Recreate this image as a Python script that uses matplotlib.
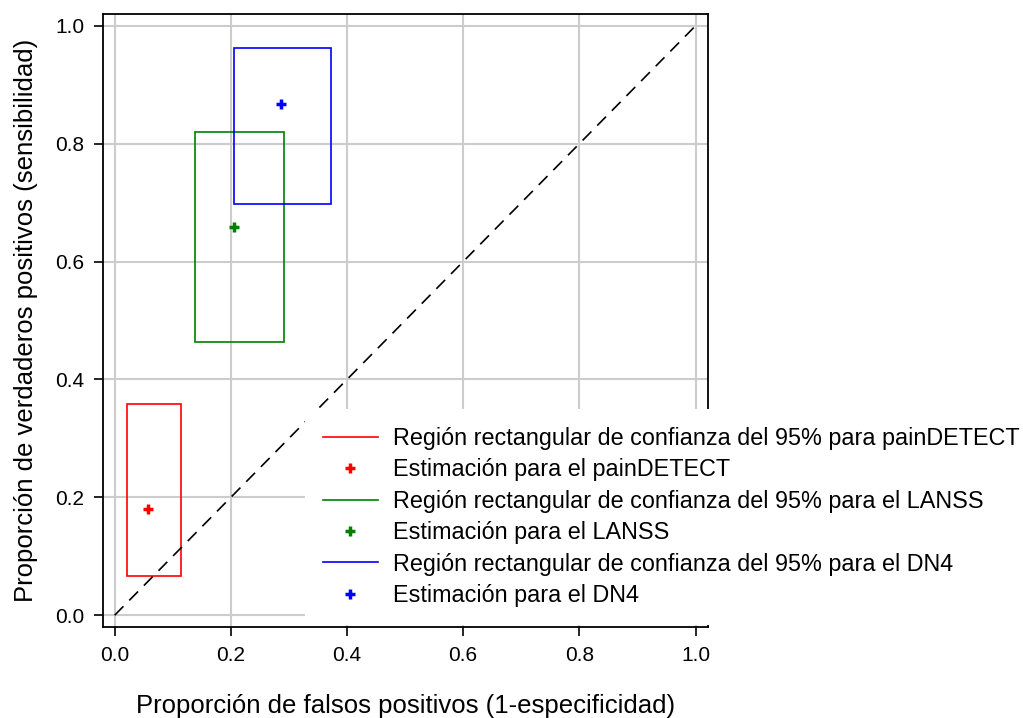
import matplotlib
matplotlib.use("Agg")
import matplotlib.pyplot as plt
from matplotlib.patches import Rectangle
from matplotlib.lines import Line2D

plt.rcParams['font.family'] = ['Liberation Sans', 'DejaVu Sans']

names = ["painDETECT", "LANSS", "DN4"]
colors = ["red", "green", "blue"]
fpr = [0.057, 0.205, 0.286]
tpr = [0.180, 0.659, 0.868]
fpr_lo = [0.022, 0.138, 0.205]
fpr_hi = [0.115, 0.291, 0.373]
tpr_lo = [0.066, 0.463, 0.697]
tpr_hi = [0.358, 0.820, 0.963]
rect_labels = ["Región rectangular de confianza del 95% para painDETECT",
               "Región rectangular de confianza del 95% para el LANSS",
               "Región rectangular de confianza del 95% para el DN4"]
point_labels = ["Estimación para el painDETECT",
                "Estimación para el LANSS",
                "Estimación para el DN4"]
ticks = [0.0, 0.2, 0.4, 0.6, 0.8, 1.0]
tick_labels = ["0.0", "0.2", "0.4", "0.6", "0.8", "1.0"]

fig = plt.figure(figsize=(10.23, 7.18), dpi=100)
ax = fig.add_axes([0.1007, 0.1267, 0.5917, 0.8538])
ax.set_xlim(-0.02, 1.022)
ax.set_ylim(-0.02, 1.02)
ax.grid(True, color='#cccccc', linewidth=1.5)
ax.set_axisbelow(True)

ax.plot([0, 1], [0, 1], color='black', linestyle=(0, (7.5, 5)), linewidth=1.2)

handles = []
labels = []
for i in range(3):
    r = Rectangle((fpr_lo[i], tpr_lo[i]), fpr_hi[i] - fpr_lo[i], tpr_hi[i] - tpr_lo[i],
                  fill=False, edgecolor=colors[i], linewidth=1.2)
    ax.add_patch(r)
    ax.plot([fpr[i]], [tpr[i]], linestyle='none', marker='+', markersize=7,
            markeredgewidth=2.5, color=colors[i])
    handles.append(Line2D([], [], color=colors[i], linewidth=1.2))
    labels.append(rect_labels[i])
    handles.append(Line2D([], [], color=colors[i], linestyle='none', marker='+',
                          markersize=7, markeredgewidth=2.5))
    labels.append(point_labels[i])

ax.set_xticks(ticks)
ax.set_xticklabels(tick_labels)
ax.set_yticks(ticks)
ax.set_yticklabels(tick_labels)
ax.tick_params(labelsize=15, length=6.5, width=1.2, direction='out', pad=7)
for s in ax.spines.values():
    s.set_linewidth(1.3)

ax.set_xlabel("Proporción de falsos positivos (1-especificidad)", fontsize=18.5, labelpad=21)
ax.set_ylabel("Proporción de verdaderos positivos (sensibilidad)", fontsize=18.5, labelpad=12)

leg = fig.legend(handles, labels, loc='lower left', bbox_to_anchor=(0.298, 0.1295),
                 fontsize=16.8, frameon=True, facecolor='white', edgecolor='none',
                 framealpha=1, handlelength=2.36, handletextpad=0.65,
                 labelspacing=0.36, borderpad=0.77, borderaxespad=0)

fig.savefig("out.png", dpi=100)
